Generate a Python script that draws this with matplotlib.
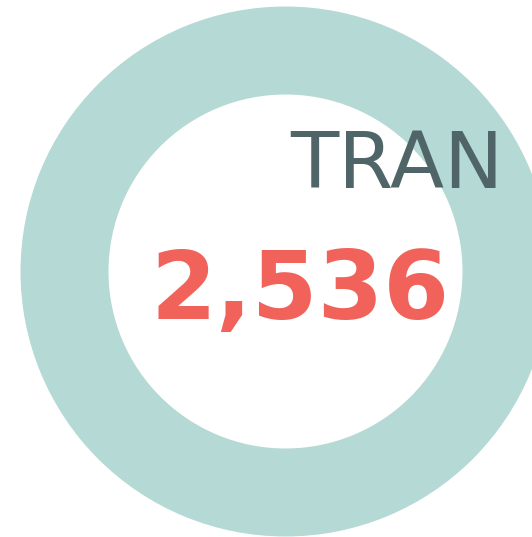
import matplotlib.pyplot as plt

# data
total = [2536]
value_label = "2,536"
title_label = "TRAN"

ring_color = "#b5d9d5"
value_color = "#f0625a"
title_color = "#4f6568"

W, H = 532, 537
fig = plt.figure(figsize=(W / 100, H / 100), dpi=100)
ax = fig.add_axes([0, 0, 1, 1])

# ring drawn as a single-slice donut, in pixel units
ax.pie(total, colors=[ring_color], radius=265, center=(285.5, 271.5),
       startangle=90, wedgeprops=dict(width=88, linewidth=0))

ax.set_xlim(0, W)
ax.set_ylim(H, 0)
ax.set_aspect("equal")
ax.axis("off")

ax.text(290, 188.5, title_label, color=title_color, fontsize=57,
        family="DejaVu Sans", ha="left", va="baseline")
ax.text(150, 319, value_label, color=value_color, fontsize=68,
        family="DejaVu Sans", fontweight="bold", ha="left", va="baseline")

fig.savefig("out.png", dpi=100)
